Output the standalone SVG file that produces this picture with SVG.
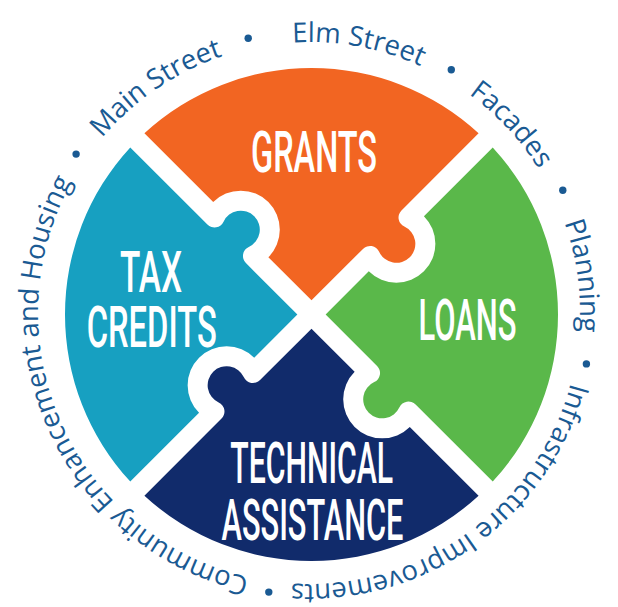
<svg xmlns="http://www.w3.org/2000/svg" xmlns:xlink="http://www.w3.org/1999/xlink" width="618" height="607" viewBox="0 0 618 607">
<style>
.lbl{font-family:Roboto,"Liberation Sans",sans-serif;font-weight:500;font-size:58px;fill:#ffffff;text-anchor:middle}
.ring{font-family:"Open Sans","Liberation Sans",sans-serif;font-size:27.5px;fill:#1a5a93;text-anchor:middle}
.dot{fill:#1a5a93}
</style>
<defs>
<path id="piece" d="M 0 -14.14 L -43.13 -57.27 A 39 39 0 0 0 -43.13 -112.43 A 39 39 0 0 0 -98.29 -112.43 L -167.09 -181.23 A 246.5 246.5 0 0 1 167.09 -181.23 L 89.96 -104.10 A 10 10 0 0 0 92.83 -87.95 A 19 19 0 1 1 67.61 -62.73 A 10 10 0 0 0 51.46 -65.60 Z"/>
<path id="ringpath" d="M 580 313 A 271 271 0 0 1 38 313 A 271 271 0 0 1 580 313 A 271 271 0 0 1 38 313 A 271 271 0 0 1 580 313"/>
</defs>
<rect width="618" height="607" fill="#ffffff"/>
<g id="grants">
<use href="#piece" transform="translate(311.5 314.5)" fill="#f26522"/>
<text class="lbl" x="314" y="172" textLength="126" lengthAdjust="spacingAndGlyphs">GRANTS</text>
</g>
<g id="loans">
<use href="#piece" transform="translate(311.5 314.5) rotate(90)" fill="#5ab84a"/>
<text class="lbl" x="467.5" y="340" textLength="98" lengthAdjust="spacingAndGlyphs">LOANS</text>
</g>
<g id="technical-assistance">
<use href="#piece" transform="translate(311.5 314.5) rotate(180)" fill="#112b6b"/>
<text class="lbl" x="311.7" y="483" textLength="163" lengthAdjust="spacingAndGlyphs">TECHNICAL</text>
<text class="lbl" x="312.5" y="540" textLength="182" lengthAdjust="spacingAndGlyphs">ASSISTANCE</text>
</g>
<g id="tax-credits">
<use href="#piece" transform="translate(311.5 314.5) rotate(270)" fill="#17a0c1"/>
<text class="lbl" x="151" y="292" textLength="62" lengthAdjust="spacingAndGlyphs">TAX</text>
<text class="lbl" x="151.7" y="347" textLength="130" lengthAdjust="spacingAndGlyphs">CREDITS</text>
</g>
<g id="ring-labels">
<text class="ring"><textPath href="#ringpath" startOffset="1114.9">Main Street</textPath></text>
<text class="ring"><textPath href="#ringpath" startOffset="1325.9">Elm Street</textPath></text>
<text class="ring"><textPath href="#ringpath" startOffset="1498.9">Facades</textPath></text>
<text class="ring"><textPath href="#ringpath" startOffset="1665.5">Planning</textPath></text>
<text class="ring"><textPath href="#ringpath" startOffset="257.1">Infrastructure Improvements</textPath></text>
<text class="ring"><textPath href="#ringpath" startOffset="737.1">Community Enhancement and Housing</textPath></text>
<circle class="dot" cx="248.2" cy="38.2" r="3.7"/>
<circle class="dot" cx="451.3" cy="69.8" r="3.7"/>
<circle class="dot" cx="562.8" cy="190.3" r="3.7"/>
<circle class="dot" cx="586.4" cy="363.9" r="3.7"/>
<circle class="dot" cx="268.8" cy="592.1" r="3.7"/>
<circle class="dot" cx="76.1" cy="154.1" r="3.7"/>
</g>
</svg>
